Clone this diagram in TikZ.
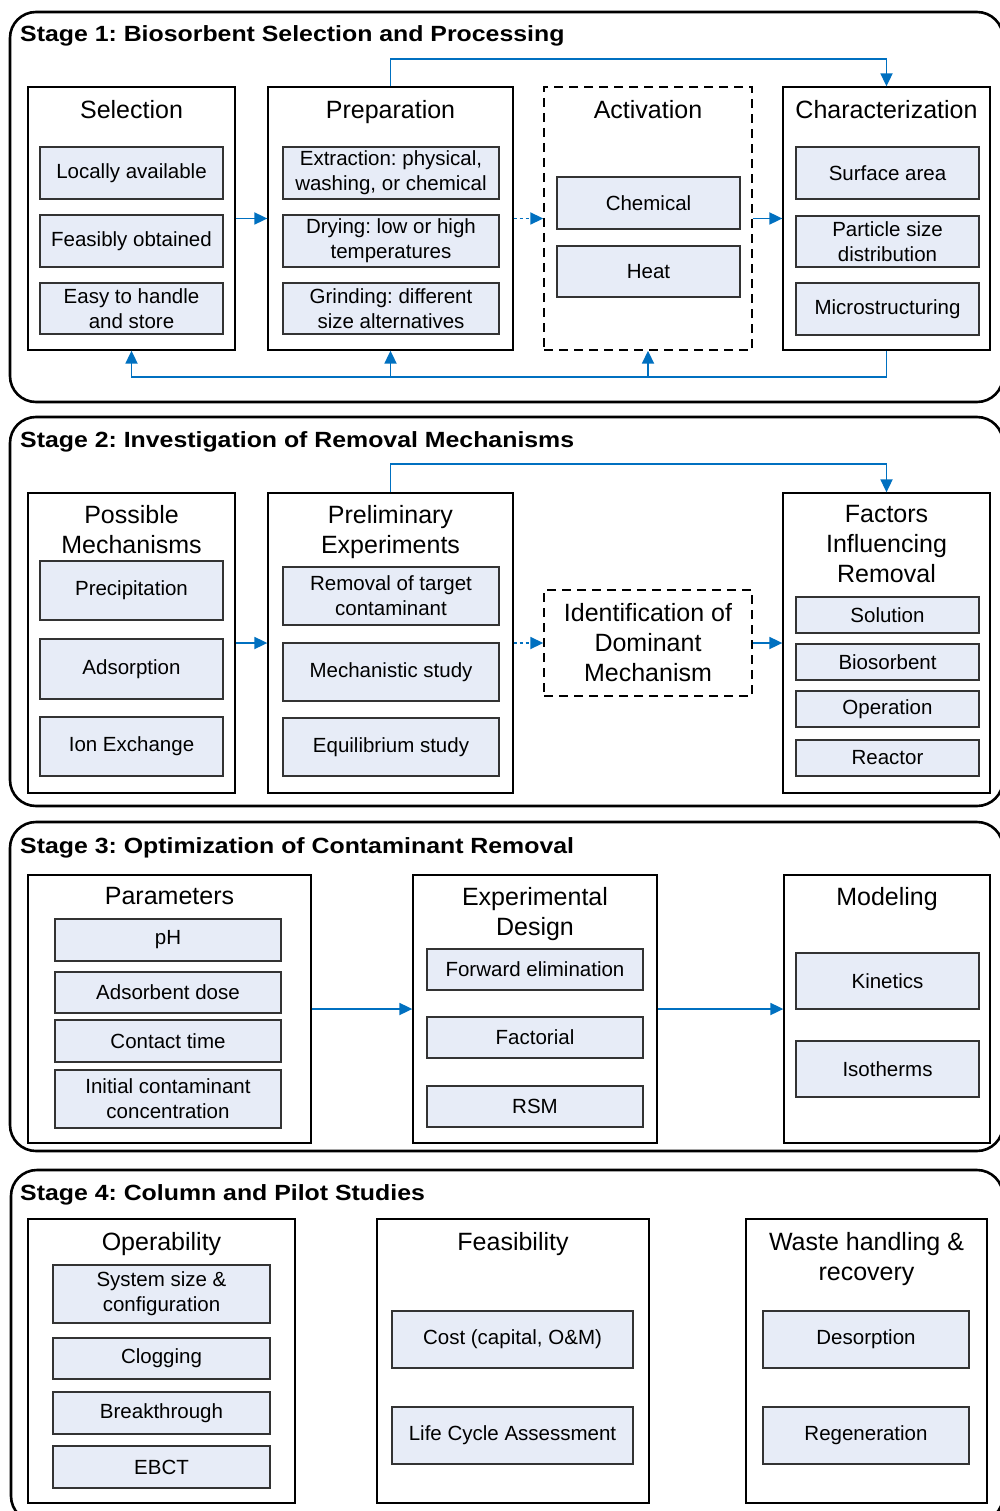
\documentclass[tikz,border=0pt]{standalone}
\usepackage{fontspec}
\usepackage{graphicx}
\setmainfont{Liberation Sans}
\usetikzlibrary{arrows.meta}
\frenchspacing
\definecolor{myblue}{RGB}{0,112,192}
\definecolor{subfill}{RGB}{231,236,247}
\newcommand\hdrfont{\fontsize{25}{30}\selectfont}
\newcommand\subfont{\fontsize{20.5}{25}\selectfont}
\newcommand\ttlfont{\fontsize{22}{25}\selectfont\bfseries}
\newcommand\ttltext[1]{\scalebox{1.13}[1]{#1}}
\newcommand\mkbox[7]{\node[#2, minimum width={#5-#3}, minimum height={#6-#4}] (#1) at ({(#3+#5)/2},{(#4+#6)/2}) {#7};}
\tikzset{
  stagebox/.style={draw=black, line width=2.6pt, rounded corners=26pt, inner sep=0pt},
  colbox/.style={draw=black, line width=1.3pt, inner sep=0pt},
  dashbox/.style={draw=black, line width=1.4pt, dash pattern=on 9pt off 6pt, inner sep=0pt, align=center, font=\hdrfont},
  subbox/.style={draw=black!80, line width=1.8pt, fill=subfill, inner sep=0pt, align=center, font=\subfont},
  hdr/.style={align=center, font=\hdrfont, inner sep=0pt, anchor=north},
  ttl/.style={anchor=base west, inner sep=0pt, font=\ttlfont},
  conn/.style={draw=myblue, line width=1.8pt},
  arr/.style={conn, -{Triangle[length=13pt,width=12pt]}},
  darr/.style={arr, dash pattern=on 3pt off 3pt}
}
\begin{document}
\begin{tikzpicture}[x=1pt,y=-1pt]
\useasboundingbox (0,0) rectangle (1000,1511);
% ---------------- Stage 1
\mkbox{st1}{stagebox}{10}{12}{1003}{402}{}
\node[ttl] (tt1) at (20,42) {\ttltext{Stage 1: Biosorbent Selection and Processing}};
\mkbox{sel}{colbox}{28}{87}{235}{350}{}
\mkbox{prep}{colbox}{268}{87}{513}{350}{}
\mkbox{act}{dashbox}{544}{87}{752}{350}{}
\mkbox{char}{colbox}{783}{87}{990}{350}{}
\node[hdr] (hsel) at (131.5,100) {Selection};
\node[hdr] (hprep) at (390.5,100) {Preparation};
\node[hdr] (hact) at (648,100) {Activation};
\node[hdr] (hchar) at (886.5,100) {Characterization};
\mkbox{la}{subbox}{40}{147}{223}{199}{Locally available}
\mkbox{fo}{subbox}{40}{215}{223}{267}{Feasibly obtained}
\mkbox{eh}{subbox}{40}{283}{223}{334}{Easy to handle\\and store}
\mkbox{ex}{subbox}{283}{147}{499}{199}{Extraction: physical,\\washing, or chemical}
\mkbox{dr}{subbox}{283}{215}{499}{267}{Drying: low or high\\temperatures}
\mkbox{gr}{subbox}{283}{283}{499}{334}{Grinding: different\\size alternatives}
\mkbox{ch}{subbox}{557}{177}{740}{229}{Chemical}
\mkbox{ht}{subbox}{557}{246}{740}{297}{Heat}
\mkbox{sa}{subbox}{796}{147}{979}{199}{Surface area}
\mkbox{ps}{subbox}{796}{216}{979}{267}{Particle size\\distribution}
\mkbox{ms}{subbox}{796}{283}{979}{335}{Microstructuring}
\coordinate (t1) at (0,59);
\coordinate (b1) at (0,377);
\draw[arr] (sel.east) -- (prep.west);
\draw[darr] (prep.east) -- (act.west);
\draw[arr] (act.east) -- (char.west);
\draw[arr] (prep.north) -- (prep.north |- t1) -| (char.north);
\draw[arr] (char.south) -- (char.south |- b1) -| (sel.south);
\draw[arr] (prep.south |- b1) -- (prep.south);
\draw[arr] (act.south |- b1) -- (act.south);
% ---------------- Stage 2
\mkbox{st2}{stagebox}{10}{417}{1003}{806}{}
\node[ttl] (tt2) at (20,447) {\ttltext{Stage 2: Investigation of Removal Mechanisms}};
\mkbox{pm}{colbox}{28}{493}{235}{793}{}
\mkbox{pe}{colbox}{268}{493}{513}{793}{}
\mkbox{idm}{dashbox}{544}{590}{752}{696}{Identification of\\Dominant\\Mechanism}
\mkbox{fir}{colbox}{783}{493}{990}{793}{}
\node[hdr] (hpm) at (131.5,505) {Possible\\Mechanisms};
\node[hdr] (hpe) at (390.5,505) {Preliminary\\Experiments};
\node[hdr] (hfir) at (886.5,505) {Factors\\Influencing\\Removal};
\mkbox{pr}{subbox}{40}{561}{223}{620}{Precipitation}
\mkbox{ad}{subbox}{40}{639}{223}{699}{Adsorption}
\mkbox{ie}{subbox}{40}{717}{223}{776}{Ion Exchange}
\mkbox{rt}{subbox}{283}{567}{499}{625}{Removal of target\\contaminant}
\mkbox{mst}{subbox}{283}{643}{499}{701}{Mechanistic study}
\mkbox{eq}{subbox}{283}{718}{499}{776}{Equilibrium study}
\mkbox{so}{subbox}{796}{597}{979}{633}{Solution}
\mkbox{bi}{subbox}{796}{644}{979}{680}{Biosorbent}
\mkbox{op}{subbox}{796}{691}{979}{727}{Operation}
\mkbox{re}{subbox}{796}{740}{979}{776}{Reactor}
\coordinate (t2) at (0,464);
\draw[arr] (pm.east) -- (pe.west);
\draw[darr] (pe.east) -- (idm.west);
\draw[arr] (idm.east) -- (fir.west);
\draw[arr] (pe.north) -- (pe.north |- t2) -| (fir.north);
% ---------------- Stage 3
\mkbox{st3}{stagebox}{10}{822}{1003}{1151}{}
\node[ttl] (tt3) at (20,853) {\ttltext{Stage 3: Optimization of Contaminant Removal}};
\mkbox{par}{colbox}{28}{875}{311}{1143}{}
\mkbox{exd}{colbox}{413}{875}{657}{1143}{}
\mkbox{mod}{colbox}{784}{875}{990}{1143}{}
\node[hdr] (hpar) at (169.5,887) {Parameters};
\node[hdr] (hexd) at (535,887) {Experimental\\Design};
\node[hdr] (hmod) at (887,887) {Modeling};
\mkbox{ph}{subbox}{55}{919}{281}{961}{pH}
\mkbox{dose}{subbox}{55}{972}{281}{1013}{Adsorbent dose}
\mkbox{ct}{subbox}{55}{1020}{281}{1062}{Contact time}
\mkbox{ic}{subbox}{55}{1070}{281}{1128}{Initial contaminant\\concentration}
\mkbox{fe}{subbox}{427}{949}{643}{990}{Forward elimination}
\mkbox{fa}{subbox}{427}{1017}{643}{1058}{Factorial}
\mkbox{rsm}{subbox}{427}{1086}{643}{1127}{RSM}
\mkbox{ki}{subbox}{796}{953}{979}{1009}{Kinetics}
\mkbox{iso}{subbox}{796}{1041}{979}{1097}{Isotherms}
\draw[arr] (par.east) -- (exd.west);
\draw[arr] (exd.east) -- (mod.west);
% ---------------- Stage 4
\mkbox{st4}{stagebox}{11}{1170}{1003}{1522}{}
\node[ttl] (tt4) at (20,1200) {\ttltext{Stage 4: Column and Pilot Studies}};
\mkbox{opb}{colbox}{28}{1219}{295}{1503}{}
\mkbox{fea}{colbox}{377}{1219}{649}{1503}{}
\mkbox{wh}{colbox}{746}{1219}{987}{1503}{}
\node[hdr] (hopb) at (161.5,1232) {Operability};
\node[hdr] (hfea) at (513,1232) {Feasibility};
\node[hdr] (hwh) at (866.5,1232) {Waste handling \&\\recovery};
\mkbox{sys}{subbox}{53}{1265}{270}{1323}{System size \&\\configuration}
\mkbox{clog}{subbox}{53}{1338}{270}{1379}{Clogging}
\mkbox{bt}{subbox}{53}{1392}{270}{1434}{Breakthrough}
\mkbox{ebct}{subbox}{53}{1446}{270}{1488}{EBCT}
\mkbox{cost}{subbox}{392}{1311}{633}{1368}{Cost (capital, O\&M)}
\mkbox{lca}{subbox}{392}{1407}{633}{1464}{Life Cycle Assessment}
\mkbox{des}{subbox}{763}{1311}{969}{1368}{Desorption}
\mkbox{reg}{subbox}{763}{1407}{969}{1464}{Regeneration}
\end{tikzpicture}
\end{document}
